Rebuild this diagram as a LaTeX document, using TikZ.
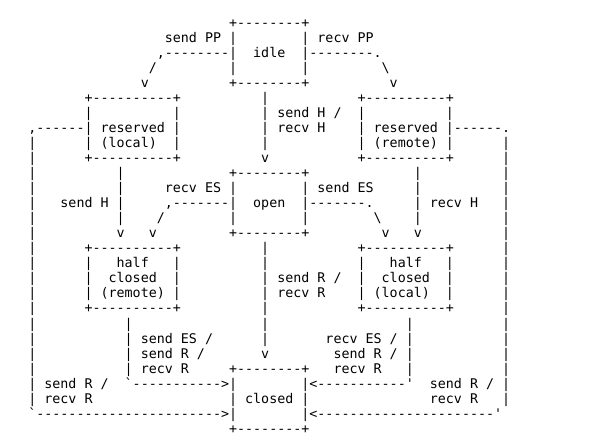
\documentclass[tikz,border=0pt]{standalone}
\usepackage{fontspec}
\setmonofont{DejaVu Sans Mono}
% skip n character cells
\newcommand\sk[1]{\hskip#1\fontcharwd\font`0\relax}
\ExplSyntaxOn
\cs_new:Npn \dashes #1 { \prg_replicate:nn {#1} {-} }
\ExplSyntaxOff
\tikzset{
  asciiline/.style={anchor=base west, inner sep=0pt, outer sep=0pt,
    font=\ttfamily\fontsize{13.34}{15.04}\selectfont, text=black}
}
\newcommand\asciirow[2]{\node[asciiline] (row#1) at (-3.8,{27.6+(#1-1)*15.02}) {#2};}
\begin{document}
\begin{tikzpicture}[x=1pt,y=-1pt]
\useasboundingbox (0,0) rectangle (589,437);
\asciirow{1}{\sk{29}+\dashes{8}+}
\asciirow{2}{\sk{21}send PP |\sk{8}| recv PP}
\asciirow{3}{\sk{20},\dashes{8}|\sk{2}idle\sk{2}|\dashes{8}.}
\asciirow{4}{\sk{19}/\sk{9}|\sk{8}|\sk{9}\textbackslash}
\asciirow{5}{\sk{18}v\sk{10}+\dashes{8}+\sk{10}v}
\asciirow{6}{\sk{11}+\dashes{10}+\sk{10}|\sk{11}+\dashes{10}+}
\asciirow{7}{\sk{11}|\sk{10}|\sk{10}| send H /\sk{2}|\sk{10}|}
\asciirow{8}{\sk{4},\dashes{6}| reserved |\sk{10}| recv H\sk{4}| reserved |\dashes{6}.}
\asciirow{9}{\sk{4}|\sk{6}| (local)\sk{2}|\sk{10}|\sk{11}| (remote) |\sk{6}|}
\asciirow{10}{\sk{4}|\sk{6}+\dashes{10}+\sk{10}v\sk{11}+\dashes{10}+\sk{6}|}
\asciirow{11}{\sk{4}|\sk{10}|\sk{13}+\dashes{8}+\sk{13}|\sk{10}|}
\asciirow{12}{\sk{4}|\sk{10}|\sk{5}recv ES |\sk{8}| send ES\sk{5}|\sk{10}|}
\asciirow{13}{\sk{4}|\sk{3}send H |\sk{5},\dashes{7}|\sk{2}open\sk{2}|\dashes{7}.\sk{5}| recv H\sk{3}|}
\asciirow{14}{\sk{4}|\sk{10}|\sk{4}/\sk{8}|\sk{8}|\sk{8}\textbackslash\sk{4}|\sk{10}|}
\asciirow{15}{\sk{4}|\sk{10}v\sk{3}v\sk{9}+\dashes{8}+\sk{9}v\sk{3}v\sk{10}|}
\asciirow{16}{\sk{4}|\sk{6}+\dashes{10}+\sk{10}|\sk{11}+\dashes{10}+\sk{6}|}
\asciirow{17}{\sk{4}|\sk{6}|\sk{3}half\sk{3}|\sk{10}|\sk{11}|\sk{3}half\sk{3}|\sk{6}|}
\asciirow{18}{\sk{4}|\sk{6}|\sk{2}closed\sk{2}|\sk{10}| send R /\sk{2}|\sk{2}closed\sk{2}|\sk{6}|}
\asciirow{19}{\sk{4}|\sk{6}| (remote) |\sk{10}| recv R\sk{4}| (local)\sk{2}|\sk{6}|}
\asciirow{20}{\sk{4}|\sk{6}+\dashes{10}+\sk{10}|\sk{11}+\dashes{10}+\sk{6}|}
\asciirow{21}{\sk{4}|\sk{11}|\sk{16}|\sk{17}|\sk{11}|}
\asciirow{22}{\sk{4}|\sk{11}| send ES /\sk{6}|\sk{7}recv ES / |\sk{11}|}
\asciirow{23}{\sk{4}|\sk{11}| send R /\sk{7}v\sk{8}send R / |\sk{11}|}
\asciirow{24}{\sk{4}|\sk{11}| recv R\sk{5}+\dashes{8}+\sk{3}recv R\sk{3}|\sk{11}|}
\asciirow{25}{\sk{4}| send R /\sk{2}`\dashes{11}>|\sk{8}|<\dashes{11}'\sk{2}send R / |}
\asciirow{26}{\sk{4}| recv R\sk{17}| closed |\sk{15}recv R\sk{3}|}
\asciirow{27}{\sk{4}`\dashes{23}>|\sk{8}|<\dashes{22}'}
\asciirow{28}{\sk{29}+\dashes{8}+}
\end{tikzpicture}
\end{document}
